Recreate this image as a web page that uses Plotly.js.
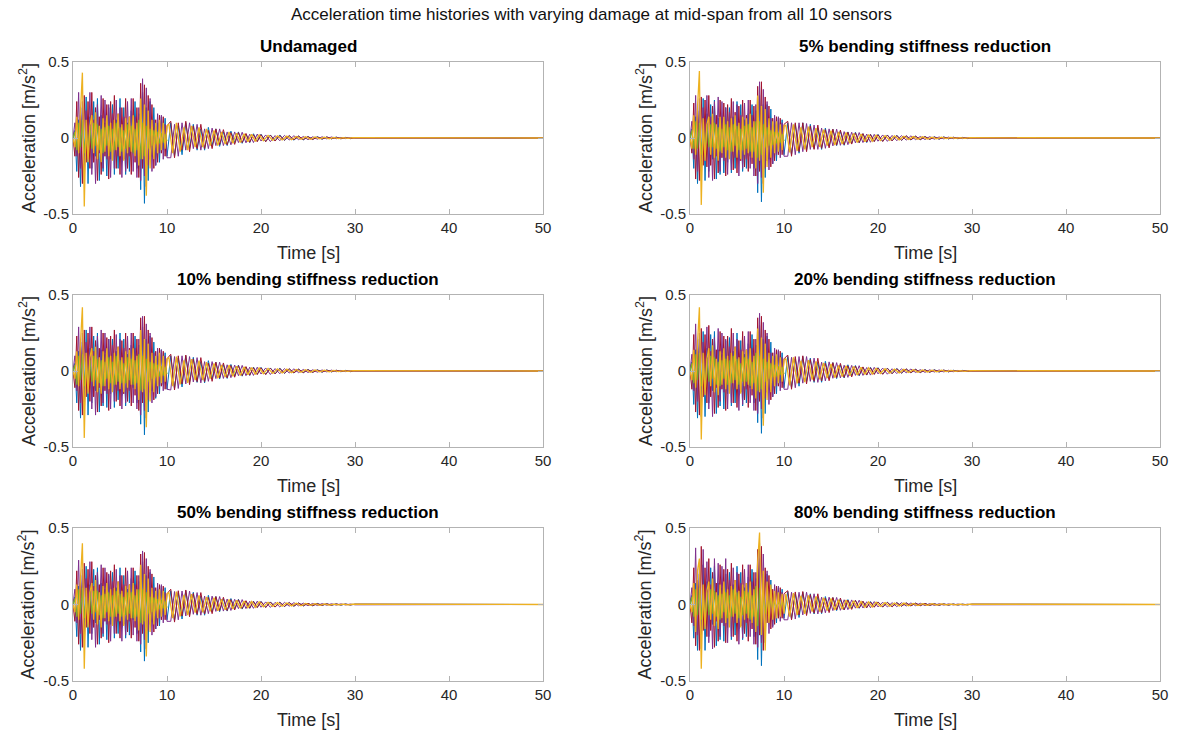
<!DOCTYPE html>
<html>
<head>
<meta charset="utf-8">
<script src="https://cdn.plot.ly/plotly-3.0.1.min.js"></script>
<style>html,body{margin:0;padding:0;background:#fff;}#chart{width:1183px;height:736px;}</style>
</head>
<body>
<div id="chart"></div>
<script>
// Time axis [s] for the blue, purple and red sensor traces
const time = [0,0.2,0.4,0.6,0.8,1,1.2,1.4,1.6,1.8,
2,2.2,2.4,2.6,2.8,3,3.2,3.4,3.6,3.8,
4,4.2,4.4,4.6,4.8,5,5.2,5.4,5.6,5.8,
6,6.2,6.4,6.6,6.8,7,7.2,7.4,7.6,7.8,
8,8.2,8.4,8.6,8.8,9,9.2,9.4,9.6,9.8,10,
10.4,10.8,11.2,11.6,12,12.4,12.8,13.2,13.6,14,14.4,14.8,15.2,15.6,16,16.4,16.8,17.2,17.6,18,18.4,18.8,19.2,19.6,20,
20.5,21,21.5,22,22.5,23,23.5,24,24.5,25,25.5,26,26.5,27,27.5,28,28.5,29,29.5,30,
50];
// Time axis [s] of the yellow sensor (samples offset in the decay part)
const timeYellow = [0,0.2,0.4,0.6,0.8,1,1.2,1.4,1.6,1.8,
2,2.2,2.4,2.6,2.8,3,3.2,3.4,3.6,3.8,
4,4.2,4.4,4.6,4.8,5,5.2,5.4,5.6,5.8,
6,6.2,6.4,6.6,6.8,7,7.2,7.4,7.6,7.8,
8,8.2,8.4,8.6,8.8,9,9.2,9.4,9.6,9.8,10,
10.2,10.6,11,11.4,11.8,12.2,12.6,13,13.4,13.8,14.2,14.6,15,15.4,15.8,16.2,16.6,17,17.4,17.8,18.2,18.6,19,19.4,19.8,
20.25,20.75,21.25,21.75,22.25,22.75,23.25,23.75,24.25,24.75,25.25,25.75,26.25,26.75,27.25,27.75,28.25,28.75,29.25,29.75,
50];
// Early-window time axis [s] for the green sensor
const timeEarly = [0,0.2,0.4,0.6,0.8,1,1.2,1.4,1.6,1.8,
2,2.2,2.4,2.6,2.8,3,3.2,3.4,3.6,3.8,
4,4.2,4.4,4.6,4.8,5,5.2,5.4,5.6,5.8,
6,6.2,6.4,6.6,6.8,7,7.2,7.4,7.6,7.8,
8,8.2,8.4,8.6,8.8,9,9.2,9.4,9.6,9.8,10];

const panelTitles = ["Undamaged","5% bending stiffness reduction","10% bending stiffness reduction","20% bending stiffness reduction","50% bending stiffness reduction","80% bending stiffness reduction"];
const sensorColors = ["#0072BD","#7E2F8E","#A2142F","#77AC30","#EDB120"];
const xTicks = [0,10,20,30,40,50];
const yTicks = [-0.5,0,0.5];
const yTickText = ["-0.5","0","0.5"];

// ---- Undamaged ----
const undamagedBlue = [0,.05,-.22,.12,-.32,.2,-.18,.27,-.3,.14,
-.2,.24,-.12,.26,-.28,.15,-.22,.1,-.25,.2,
-.14,.22,-.24,.12,-.2,.26,-.16,.2,-.24,.1,
-.22,.18,-.1,.24,-.2,.16,-.34,.3,-.43,.2,
-.28,.24,-.12,.2,-.18,.1,-.16,.14,-.08,.13,-.12,
.1,-.12,.08,-.11,.1,-.07,.09,-.08,.06,-.08,.07,-.05,.06,-.055,.04,-.05,.045,-.03,.04,-.035,.025,-.03,.028,-.02,.025,
-.022,.02,-.018,.02,-.016,.015,-.014,.012,-.012,.01,-.009,.009,-.008,.007,-.006,.006,-.005,.004,-.004,.003,
0];
const undamagedPurple = [0,.1,-.12,.3,-.2,.24,-.3,.18,-.14,.3,
-.24,.12,-.3,.22,-.1,.28,-.2,.25,-.14,.22,
-.26,.16,-.2,.25,-.12,.2,-.26,.14,-.22,.24,
-.12,.26,-.22,.14,-.26,.2,-.28,.39,-.25,.33,
-.18,.26,-.22,.12,-.18,.16,-.1,.15,-.14,.09,-.13,
-.13,.09,-.12,.1,-.08,.1,-.07,.09,-.08,.06,-.07,.065,-.05,.06,-.05,.04,-.045,.04,-.03,.038,-.032,.025,-.03,.026,-.02,
.02,-.024,.016,-.018,.017,-.013,.015,-.011,.01,-.011,.008,-.008,.008,-.006,.007,-.005,.004,-.004,.003,-.003,
0];
const undamagedRed = [0,-.12,.24,-.26,.16,-.3,.28,-.16,.24,-.2,
.3,-.16,.2,-.28,.14,-.24,.26,-.12,.22,-.27,
.24,-.1,.28,-.2,.16,-.24,.2,-.14,.26,-.2,
.14,-.24,.26,-.16,.2,-.26,.36,-.2,.35,-.32,
.28,-.14,.22,-.2,.12,-.16,.15,-.1,.14,-.12,.08,
.11,-.13,.1,-.08,.11,-.09,.08,-.07,.09,-.07,.05,-.07,.06,-.045,.055,-.045,.035,-.042,.036,-.03,.03,-.028,.022,-.025,.022,
-.025,.018,-.02,.016,-.014,.016,-.012,.013,-.011,.009,-.01,.007,-.007,.007,-.005,.005,-.005,.003,-.004,.003,
0];
const undamagedGreen = [0,.04,-.08,.1,-.06,.12,-.1,.05,-.09,.08,
-.07,.1,-.05,.09,-.08,.06,-.1,.07,-.05,.08,
-.09,.06,-.08,.1,-.06,.07,-.09,.05,-.07,.09,
-.06,.08,-.1,.06,-.08,.12,-.14,.1,-.12,.08,
-.07,.06,-.05,.05,-.04,.04,-.035,.03,-.03,.025,-.02];
const undamagedYellow = [0,-.06,.14,-.1,.18,.43,-.45,.12,-.16,.08,
.15,-.1,.17,-.14,.08,-.16,.13,-.09,.15,-.12,
.1,-.15,.12,-.08,.16,-.12,.09,-.15,.13,-.1,
.14,-.09,.15,-.12,.1,-.18,.26,-.14,.22,-.38,
.18,-.2,.12,-.14,.1,-.1,.12,-.08,.1,-.07,.08,
.09,-.1,.1,-.09,.07,-.08,.08,-.06,.07,-.06,.06,-.05,.05,-.05,.04,-.04,.04,-.035,.032,-.03,.028,-.024,.024,-.022,.02,
-.018,.017,-.016,.014,-.013,.012,-.011,.01,-.009,.008,-.008,.007,-.006,.006,-.005,.004,-.004,.003,-.003,.002,
0];

// ---- 5% reduction ----
const red5Blue = [0,.06,-.2,.14,-.3,.18,-.22,.26,-.28,.16,
-.22,.22,-.14,.25,-.27,.13,-.24,.12,-.23,.2,
-.16,.2,-.23,.14,-.2,.24,-.15,.22,-.22,.12,
-.2,.16,-.12,.22,-.2,.18,-.36,.28,-.42,.22,
-.26,.22,-.14,.19,-.17,.11,-.15,.13,-.09,.12,-.11,
.1,-.11,.09,-.1,.1,-.08,.09,-.07,.065,-.075,.065,-.055,.058,-.05,.045,-.048,.04,-.035,.038,-.032,.028,-.03,.025,-.022,.024,
-.021,.02,-.018,.018,-.016,.014,-.013,.012,-.011,.01,-.009,.008,-.008,.007,-.006,.005,-.005,.004,-.004,.003,
0];
const red5Purple = [0,.11,-.14,.28,-.22,.26,-.28,.2,-.15,.28,
-.26,.14,-.28,.24,-.12,.27,-.22,.24,-.15,.2,
-.24,.17,-.21,.24,-.13,.22,-.25,.15,-.2,.23,
-.14,.25,-.2,.15,-.25,.22,-.3,.37,-.26,.32,
-.2,.24,-.21,.13,-.17,.15,-.11,.14,-.13,.1,-.12,
-.12,.1,-.11,.1,-.09,.095,-.075,.085,-.075,.065,-.068,.06,-.052,.058,-.048,.042,-.044,.038,-.032,.036,-.03,.026,-.028,.024,-.021,
.02,-.022,.017,-.018,.016,-.014,.014,-.011,.01,-.01,.009,-.008,.007,-.006,.006,-.005,.004,-.004,.003,-.003,
0];
const red5Red = [0,-.1,.23,-.27,.18,-.28,.27,-.18,.25,-.19,
.28,-.18,.21,-.27,.15,-.23,.25,-.13,.23,-.25,
.22,-.12,.26,-.21,.17,-.23,.21,-.15,.25,-.19,
.15,-.22,.25,-.17,.21,-.25,.34,-.22,.37,-.3,
.27,-.15,.21,-.19,.13,-.15,.14,-.11,.13,-.11,.09,
.11,-.12,.1,-.09,.1,-.09,.08,-.075,.085,-.068,.055,-.065,.058,-.047,.052,-.044,.038,-.04,.034,-.031,.029,-.027,.023,-.024,.021,
-.023,.018,-.019,.016,-.015,.015,-.012,.012,-.011,.009,-.009,.007,-.007,.006,-.005,.005,-.004,.003,-.003,.003,
0];
const red5Green = [0,.05,-.07,.11,-.07,.1,-.11,.06,-.08,.09,
-.06,.09,-.06,.1,-.07,.07,-.09,.06,-.06,.09,
-.08,.07,-.09,.09,-.05,.08,-.08,.06,-.08,.08,
-.07,.09,-.09,.07,-.09,.11,-.13,.11,-.11,.09,
-.06,.07,-.05,.05,-.045,.04,-.035,.035,-.03,.025,-.02];
const red5Yellow = [0,-.07,.15,-.11,.2,.44,-.44,.13,-.15,.09,
.14,-.11,.16,-.13,.09,-.15,.14,-.1,.14,-.13,
.11,-.14,.13,-.09,.15,-.13,.1,-.14,.14,-.11,
.13,-.1,.16,-.13,.11,-.2,.28,-.15,.21,-.36,
.19,-.19,.13,-.13,.11,-.1,.11,-.09,.09,-.08,.08,
.085,-.095,.09,-.085,.07,-.075,.075,-.06,.065,-.058,.055,-.05,.048,-.046,.04,-.04,.037,-.034,.03,-.029,.026,-.024,.022,-.021,.019,
-.017,.016,-.015,.014,-.012,.011,-.01,.009,-.009,.008,-.007,.006,-.006,.005,-.004,.004,-.003,.003,-.003,.002,
0];

// ---- 10% reduction ----
const red10Blue = [0,.05,-.21,.13,-.31,.19,-.2,.27,-.29,.15,
-.21,.23,-.13,.25,-.27,.14,-.23,.11,-.24,.21,
-.15,.21,-.24,.13,-.19,.25,-.16,.21,-.23,.11,
-.21,.17,-.11,.23,-.21,.17,-.35,.29,-.42,.21,
-.27,.23,-.13,.19,-.18,.1,-.15,.14,-.09,.12,-.12,
.1,-.115,.085,-.105,.1,-.075,.09,-.075,.062,-.078,.068,-.052,.058,-.053,.042,-.049,.043,-.032,.039,-.034,.026,-.029,.026,-.021,.024,
-.021,.02,-.018,.019,-.016,.014,-.013,.012,-.011,.01,-.009,.008,-.008,.007,-.006,.005,-.005,.004,-.004,.003,
0];
const red10Purple = [0,.1,-.13,.29,-.21,.25,-.29,.19,-.14,.29,
-.25,.13,-.29,.23,-.11,.27,-.21,.25,-.15,.21,
-.25,.17,-.2,.24,-.13,.21,-.25,.15,-.21,.23,
-.13,.25,-.21,.15,-.25,.21,-.29,.36,-.26,.31,
-.19,.25,-.21,.12,-.17,.15,-.1,.14,-.13,.1,-.12,
-.125,.095,-.115,.1,-.085,.095,-.072,.088,-.078,.062,-.068,.062,-.05,.058,-.049,.041,-.044,.039,-.031,.037,-.031,.025,-.029,.025,-.02,
.02,-.023,.016,-.018,.016,-.013,.014,-.011,.01,-.01,.008,-.008,.007,-.006,.006,-.005,.004,-.004,.003,-.003,
0];
const red10Red = [0,-.11,.23,-.26,.17,-.29,.27,-.17,.25,-.2,
.29,-.17,.2,-.27,.15,-.23,.25,-.13,.22,-.26,
.23,-.11,.27,-.2,.16,-.23,.2,-.15,.25,-.2,
.15,-.23,.25,-.16,.21,-.26,.35,-.21,.36,-.31,
.27,-.14,.22,-.19,.13,-.15,.15,-.1,.13,-.12,.08,
.11,-.125,.1,-.085,.105,-.09,.08,-.07,.088,-.07,.052,-.068,.058,-.046,.053,-.045,.036,-.041,.035,-.03,.029,-.028,.022,-.024,.021,
-.024,.018,-.019,.016,-.014,.015,-.012,.012,-.011,.009,-.009,.007,-.007,.006,-.005,.005,-.004,.003,-.004,.003,
0];
const red10Green = [0,.04,-.09,.1,-.06,.11,-.1,.06,-.09,.07,
-.07,.1,-.06,.08,-.08,.07,-.1,.06,-.05,.09,
-.08,.06,-.09,.1,-.07,.07,-.08,.05,-.08,.09,
-.06,.08,-.09,.07,-.08,.11,-.13,.1,-.12,.08,
-.07,.06,-.05,.05,-.04,.04,-.035,.03,-.03,.025,-.02];
const red10Yellow = [0,-.05,.13,-.1,.19,.42,-.44,.12,-.15,.09,
.15,-.1,.16,-.14,.09,-.15,.13,-.1,.15,-.12,
.1,-.14,.12,-.09,.16,-.12,.09,-.14,.13,-.11,
.14,-.09,.15,-.12,.1,-.19,.27,-.14,.21,-.37,
.18,-.2,.12,-.14,.1,-.1,.12,-.08,.1,-.07,.08,
.088,-.1,.095,-.088,.07,-.078,.078,-.06,.068,-.06,.058,-.05,.05,-.048,.04,-.04,.039,-.035,.031,-.03,.027,-.024,.023,-.022,.02,
-.018,.017,-.016,.014,-.013,.012,-.011,.01,-.009,.008,-.008,.007,-.006,.006,-.005,.004,-.004,.003,-.003,.002,
0];

// ---- 20% reduction ----
const red20Blue = [0,.06,-.22,.14,-.31,.21,-.19,.26,-.3,.15,
-.21,.24,-.13,.26,-.28,.14,-.23,.11,-.25,.2,
-.15,.22,-.23,.13,-.21,.25,-.16,.2,-.23,.11,
-.21,.18,-.11,.24,-.21,.17,-.34,.3,-.41,.21,
-.28,.23,-.12,.19,-.17,.1,-.15,.13,-.08,.12,-.11,
.095,-.11,.08,-.1,.095,-.07,.085,-.075,.058,-.074,.064,-.05,.055,-.05,.04,-.046,.041,-.03,.036,-.032,.024,-.027,.024,-.019,.022,
-.02,.019,-.017,.017,-.015,.013,-.012,.011,-.01,.009,-.008,.008,-.007,.006,-.006,.005,-.004,.004,-.003,.003,
0];
const red20Purple = [0,.11,-.13,.31,-.2,.25,-.3,.19,-.15,.29,
-.25,.13,-.3,.22,-.11,.28,-.2,.25,-.14,.21,
-.25,.16,-.21,.25,-.12,.21,-.26,.14,-.22,.23,
-.12,.26,-.21,.15,-.26,.21,-.28,.38,-.25,.32,
-.18,.25,-.22,.12,-.17,.15,-.1,.14,-.13,.09,-.12,
-.12,.09,-.11,.095,-.08,.095,-.068,.085,-.075,.058,-.065,.06,-.048,.055,-.046,.038,-.042,.037,-.029,.035,-.029,.023,-.027,.024,-.019,
.019,-.021,.015,-.017,.015,-.012,.013,-.01,.009,-.009,.008,-.007,.007,-.006,.005,-.005,.004,-.003,.003,-.003,
0];
const red20Red = [0,-.12,.24,-.27,.16,-.29,.28,-.17,.24,-.21,
.3,-.17,.21,-.28,.14,-.24,.26,-.12,.23,-.26,
.23,-.1,.28,-.21,.16,-.24,.2,-.14,.26,-.19,
.14,-.24,.26,-.16,.21,-.26,.35,-.2,.36,-.31,
.27,-.14,.21,-.19,.12,-.15,.14,-.1,.13,-.11,.08,
.105,-.12,.095,-.08,.1,-.085,.076,-.068,.084,-.066,.05,-.064,.055,-.043,.05,-.042,.034,-.039,.033,-.028,.027,-.026,.021,-.023,.02,
-.022,.017,-.018,.015,-.013,.014,-.011,.011,-.01,.008,-.008,.007,-.006,.006,-.005,.004,-.004,.003,-.003,.002,
0];
const red20Green = [0,.05,-.08,.11,-.06,.12,-.1,.05,-.1,.08,
-.07,.1,-.05,.09,-.09,.06,-.1,.07,-.05,.08,
-.09,.07,-.08,.1,-.06,.08,-.09,.05,-.07,.09,
-.07,.08,-.1,.06,-.08,.12,-.13,.1,-.12,.08,
-.07,.06,-.05,.05,-.04,.04,-.035,.03,-.025,.025,-.02];
const red20Yellow = [0,-.06,.14,-.11,.18,.42,-.45,.12,-.16,.08,
.15,-.1,.17,-.14,.08,-.16,.13,-.09,.15,-.12,
.1,-.15,.12,-.08,.16,-.12,.09,-.15,.13,-.1,
.14,-.09,.15,-.12,.1,-.18,.28,-.14,.22,-.36,
.18,-.19,.12,-.14,.1,-.1,.11,-.08,.09,-.07,.07,
.082,-.094,.09,-.082,.066,-.074,.072,-.056,.064,-.055,.054,-.046,.046,-.044,.037,-.037,.035,-.032,.029,-.027,.025,-.022,.021,-.02,.018,
-.016,.015,-.014,.013,-.012,.011,-.01,.009,-.008,.007,-.007,.006,-.005,.005,-.004,.004,-.003,.003,-.002,.002,
0];

// ---- 50% reduction ----
const red50Blue = [0,.05,-.21,.12,-.3,.19,-.17,.25,-.28,.13,
-.19,.23,-.12,.24,-.26,.14,-.21,.1,-.23,.19,
-.13,.21,-.22,.11,-.19,.24,-.15,.19,-.22,.1,
-.2,.17,-.1,.22,-.19,.15,-.31,.28,-.37,.19,
-.25,.21,-.11,.18,-.16,.1,-.14,.12,-.08,.11,-.1,
.09,-.105,.078,-.095,.09,-.068,.08,-.07,.055,-.07,.06,-.047,.052,-.047,.038,-.043,.039,-.028,.034,-.03,.023,-.025,.022,-.018,.02,
-.018,.017,-.016,.015,-.013,.012,-.011,.01,-.009,.008,-.008,.007,-.006,.005,-.005,.004,-.004,.003,-.003,.002,
0];
const red50Purple = [0,.1,-.12,.29,-.19,.23,-.28,.17,-.13,.28,
-.23,.12,-.28,.21,-.1,.26,-.19,.24,-.13,.2,
-.24,.15,-.19,.23,-.11,.19,-.24,.13,-.2,.22,
-.11,.24,-.2,.13,-.24,.19,-.26,.35,-.23,.3,
-.17,.23,-.2,.11,-.16,.14,-.09,.13,-.12,.08,-.11,
-.11,.085,-.1,.088,-.075,.088,-.064,.078,-.07,.055,-.06,.055,-.045,.052,-.043,.036,-.039,.034,-.027,.032,-.027,.021,-.025,.022,-.018,
.017,-.019,.014,-.016,.014,-.011,.012,-.009,.009,-.008,.007,-.007,.006,-.005,.005,-.004,.004,-.003,.003,-.002,
0];
const red50Red = [0,-.11,.22,-.26,.15,-.28,.27,-.15,.23,-.19,
.28,-.15,.19,-.26,.13,-.22,.24,-.11,.21,-.25,
.22,-.1,.26,-.19,.15,-.22,.19,-.13,.24,-.18,
.13,-.22,.24,-.15,.19,-.24,.33,-.19,.34,-.29,
.25,-.13,.2,-.18,.11,-.14,.13,-.1,.12,-.1,.07,
.1,-.115,.09,-.075,.095,-.08,.072,-.064,.078,-.062,.047,-.06,.052,-.04,.047,-.04,.032,-.036,.031,-.026,.025,-.024,.02,-.021,.019,
-.02,.016,-.017,.014,-.013,.013,-.011,.01,-.009,.008,-.008,.006,-.006,.005,-.005,.004,-.003,.003,-.003,.002,
0];
const red50Green = [0,.04,-.08,.1,-.06,.11,-.09,.05,-.09,.08,
-.06,.09,-.05,.09,-.07,.06,-.09,.07,-.05,.08,
-.08,.06,-.08,.09,-.06,.07,-.08,.05,-.07,.08,
-.06,.08,-.09,.06,-.08,.1,-.12,.1,-.11,.08,
-.06,.05,-.05,.045,-.04,.035,-.03,.03,-.025,.02,-.02];
const red50Yellow = [0,-.05,.13,-.1,.17,.4,-.42,.11,-.15,.08,
.14,-.1,.16,-.13,.08,-.15,.12,-.09,.14,-.11,
.1,-.14,.11,-.08,.15,-.11,.09,-.14,.12,-.1,
.13,-.09,.14,-.11,.1,-.17,.26,-.13,.2,-.34,
.17,-.18,.11,-.13,.09,-.09,.1,-.08,.09,-.07,.07,
.078,-.09,.085,-.078,.063,-.07,.068,-.053,.06,-.052,.05,-.044,.044,-.041,.035,-.035,.033,-.03,.027,-.025,.023,-.021,.02,-.018,.017,
-.015,.014,-.013,.012,-.011,.01,-.009,.008,-.008,.007,-.006,.006,-.005,.004,-.004,.003,-.003,.003,-.002,.002,
0];

// ---- 80% reduction ----
const red80Blue = [0,.06,-.22,.14,-.3,.2,-.2,.26,-.3,.15,
-.21,.24,-.13,.25,-.27,.14,-.23,.11,-.24,.2,
-.15,.21,-.23,.13,-.2,.25,-.16,.21,-.23,.11,
-.21,.18,-.11,.23,-.21,.17,-.36,.3,-.4,.2,
-.25,.2,-.11,.16,-.14,.09,-.12,.11,-.07,.1,-.09,
.085,-.095,.07,-.085,.08,-.06,.07,-.062,.048,-.06,.052,-.04,.045,-.04,.032,-.036,.032,-.024,.028,-.025,.019,-.021,.019,-.015,.017,
-.015,.014,-.013,.012,-.011,.01,-.009,.008,-.007,.007,-.006,.005,-.005,.004,-.004,.003,-.003,.002,-.002,.002,
0];
const red80Purple = [0,.11,-.14,.37,-.2,.25,-.29,.36,-.14,.28,
-.25,.13,-.29,.3,-.11,.27,-.21,.25,-.14,.3,
-.25,.16,-.21,.24,-.12,.21,-.26,.14,-.22,.23,
-.12,.26,-.21,.15,-.26,.21,-.28,.4,-.25,.33,
-.17,.22,-.19,.1,-.15,.13,-.09,.12,-.11,.08,-.1,
-.1,.08,-.095,.08,-.068,.08,-.058,.07,-.062,.048,-.054,.048,-.04,.046,-.038,.031,-.034,.03,-.024,.028,-.023,.018,-.021,.019,-.016,
.015,-.016,.012,-.014,.012,-.01,.01,-.008,.008,-.007,.006,-.006,.005,-.004,.004,-.003,.003,-.003,.002,-.002,
0];
const red80Red = [0,-.12,.24,-.27,.16,-.3,.38,-.17,.24,-.21,
.3,-.17,.21,-.28,.14,-.24,.26,-.12,.23,-.25,
.23,-.1,.27,-.21,.16,-.24,.2,-.14,.26,-.19,
.14,-.24,.26,-.16,.21,-.26,.36,-.2,.38,-.3,
.24,-.12,.19,-.16,.1,-.13,.12,-.09,.11,-.09,.07,
.09,-.1,.082,-.068,.085,-.072,.065,-.057,.07,-.055,.042,-.053,.046,-.036,.042,-.035,.028,-.032,.027,-.023,.022,-.021,.017,-.018,.016,
-.017,.014,-.015,.012,-.011,.011,-.009,.009,-.008,.007,-.006,.005,-.005,.004,-.004,.003,-.003,.002,-.002,.002,
0];
const red80Green = [0,.05,-.08,.1,-.07,.11,-.1,.06,-.09,.08,
-.07,.1,-.06,.09,-.08,.06,-.1,.07,-.05,.08,
-.09,.06,-.08,.1,-.06,.08,-.09,.05,-.07,.09,
-.06,.08,-.1,.06,-.08,.12,-.14,.11,-.12,.08,
-.06,.05,-.045,.04,-.035,.03,-.03,.025,-.02,.02,-.015];
const red80Yellow = [0,-.05,.14,-.18,.22,.3,-.42,.13,-.16,.09,
.15,-.1,.17,-.14,.08,-.16,.13,-.09,.15,-.12,
.1,-.15,.12,-.08,.16,-.12,.09,-.15,.13,-.1,
.14,-.09,.15,-.12,.1,-.18,.28,.47,-.2,.22,
-.3,.15,-.12,.13,-.1,.09,-.09,.08,-.08,.07,-.06,
.07,-.08,.075,-.07,.057,-.062,.06,-.047,.053,-.046,.044,-.039,.039,-.036,.031,-.031,.029,-.026,.024,-.022,.02,-.018,.017,-.016,.015,
-.013,.012,-.011,.01,-.01,.009,-.008,.007,-.007,.006,-.005,.005,-.004,.004,-.003,.003,-.003,.002,-.002,.002,
0];

// ---------------- build figure ----------------
const panelSeries = [
  [undamagedBlue, undamagedPurple, undamagedRed, undamagedGreen, undamagedYellow],
  [red5Blue, red5Purple, red5Red, red5Green, red5Yellow],
  [red10Blue, red10Purple, red10Red, red10Green, red10Yellow],
  [red20Blue, red20Purple, red20Red, red20Green, red20Yellow],
  [red50Blue, red50Purple, red50Red, red50Green, red50Yellow],
  [red80Blue, red80Purple, red80Red, red80Green, red80Yellow]
];
const sensorTimes = [time, time, time, timeEarly, timeYellow];
const sensorWidths = [1, 1, 1, 1.2, 1.3];

const W = 1183, H = 736;
const colPx = [[73, 543], [690, 1160]];
const rowPx = [[62, 214], [295, 447], [528, 681]];
const FONT = 'Liberation Sans, Arial, Helvetica, sans-serif';
const AXC = '#b3b3b3';
const TXC = '#262626';

const traces = [];
const layout = {
  width: W, height: H,
  margin: {l: 0, r: 0, t: 0, b: 0},
  paper_bgcolor: '#ffffff', plot_bgcolor: '#ffffff',
  showlegend: false,
  font: {family: FONT, color: TXC},
  annotations: []
};

layout.annotations.push({
  text: 'Acceleration time histories with varying damage at mid-span from all 10 sensors',
  xref: 'paper', yref: 'paper', x: 591/W, y: 1 - 14/H,
  xanchor: 'center', yanchor: 'middle', showarrow: false,
  font: {size: 17, color: '#111', family: FONT}
});

for (let p = 0; p < 6; p++) {
  const row = Math.floor(p / 2), col = p % 2;
  const n = p + 1;
  const xa = n === 1 ? 'xaxis' : 'xaxis' + n;
  const ya = n === 1 ? 'yaxis' : 'yaxis' + n;
  const xr = n === 1 ? 'x' : 'x' + n;
  const yr = n === 1 ? 'y' : 'y' + n;
  const [x0, x1] = colPx[col];
  const [yt, yb] = rowPx[row];

  layout[xa] = {
    domain: [x0 / W, x1 / W], anchor: yr, range: [0, 50],
    tickmode: 'array', tickvals: xTicks, ticktext: xTicks.map(String),
    ticks: 'inside', ticklen: 5, tickcolor: AXC, tickwidth: 1,
    showline: true, linecolor: AXC, linewidth: 1, mirror: 'ticks',
    showgrid: false, zeroline: false,
    tickfont: {size: 15, color: TXC, family: FONT}
  };
  layout[ya] = {
    domain: [1 - yb / H, 1 - yt / H], anchor: xr, range: [-0.5, 0.5],
    tickmode: 'array', tickvals: yTicks, ticktext: yTickText,
    ticks: 'inside', ticklen: 5, tickcolor: AXC, tickwidth: 1,
    showline: true, linecolor: AXC, linewidth: 1, mirror: 'ticks',
    showgrid: false, zeroline: false,
    tickfont: {size: 15, color: TXC, family: FONT}
  };

  panelSeries[p].forEach((vals, s) => {
    traces.push({
      type: 'scatter', mode: 'lines',
      x: sensorTimes[s], y: vals,
      xaxis: xr, yaxis: yr,
      line: {color: sensorColors[s], width: sensorWidths[s]},
      hoverinfo: 'skip'
    });
  });

  const cx = (x0 + x1) / 2;
  layout.annotations.push({
    text: '<b>' + panelTitles[p] + '</b>',
    xref: 'paper', yref: 'paper', x: cx / W, y: 1 - (yt - 16) / H,
    xanchor: 'center', yanchor: 'middle', showarrow: false,
    font: {size: 17, color: '#000', family: FONT}
  });
  layout.annotations.push({
    text: 'Time [s]',
    xref: 'paper', yref: 'paper', x: cx / W, y: 1 - (yb + 39) / H,
    xanchor: 'center', yanchor: 'middle', showarrow: false,
    font: {size: 18, color: TXC, family: FONT}
  });
  layout.annotations.push({
    text: 'Acceleration [m/s<sup>2</sup>]',
    xref: 'paper', yref: 'paper', x: (x0 - 46) / W, y: 1 - ((yt + yb) / 2) / H,
    xanchor: 'center', yanchor: 'middle', textangle: -90, showarrow: false,
    font: {size: 18, color: TXC, family: FONT}
  });
}

Plotly.newPlot('chart', traces, layout, {staticPlot: true, displayModeBar: false});
</script>
</body>
</html>
